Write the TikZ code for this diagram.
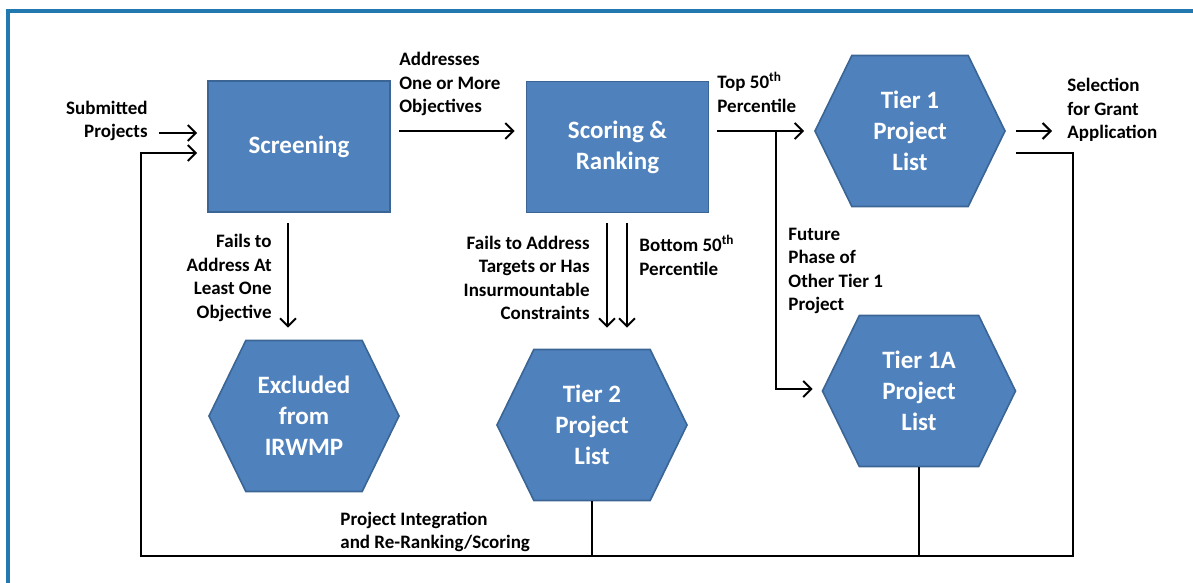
\documentclass[tikz,border=0pt]{standalone}
\usepackage{fontspec}
\setmainfont{Carlito}
\usepackage{tikz}
\usetikzlibrary{arrows.meta}
\usetikzlibrary{shapes.symbols}
\usetikzlibrary{calc}
\definecolor{azulcaixa}{HTML}{4F81BD}
\definecolor{bordacaixa}{HTML}{3A6594}
\definecolor{azulmoldura}{HTML}{2179B0}
\tikzset{
  caixa/.style={draw=bordacaixa, fill=azulcaixa, line width=0.8pt, text=white, align=center, minimum width=91pt, minimum height=65.5pt, inner sep=2pt, font=\fontsize{12.5}{15.5}\selectfont\bfseries},
  hexagono/.style={signal, signal to=east and west, signal from=nowhere, signal pointer angle=128, draw=bordacaixa, fill=azulcaixa, line width=0.8pt, text=white, align=center, minimum width=95pt, minimum height=75.5pt, inner sep=1pt, font=\fontsize{12.5}{15.5}\selectfont\bfseries},
  rotulo/.style={inner sep=0pt, align=#1, font=\fontsize{9.5}{11.75}\selectfont\bfseries},
  rotulo/.default=left,
  seta/.style={-{Straight Barb[length=4pt,width=8pt]}, line width=1pt},
  laco/.style={line width=1pt},
}
\begin{document}
\begin{tikzpicture}[x=0.5pt,y=-0.5pt]
  \useasboundingbox (0,0) rectangle (1193,583);
  \draw[azulmoldura, line width=1.6pt] (8,583) -- (8,11) -- (1193,11);

  % caixas
  \node[caixa] (scr) at (299,146.5) {Screening};
  \node[caixa] (rank) at (617.5,147) {Scoring \&\\Ranking};
  \node[hexagono] (t1) at (910,131) {Tier 1\\Project\\List};
  \node[hexagono, minimum width=96.5pt] (t1a) at (919,391) {Tier 1A\\Project\\List};
  \node[hexagono] (excl) at (304,416) {Excluded\\from\\IRWMP};
  \node[hexagono] (t2) at (592,425) {Tier 2\\Project\\List};

  % rotulos
  \node[rotulo=right, anchor=east] (sub) at (148,121) {Submitted\\Projects};
  \node[rotulo, anchor=west] (objs) at (399,84) {Addresses\\One or More\\Objectives};
  \node[rotulo, anchor=west] (top) at (717,92) {Top 50\textsuperscript{th}\\Percentile};
  \node[rotulo, anchor=west] (sel) at (1067,110) {Selection\\for Grant\\Application};
  \node[rotulo=right, anchor=east] (falha1) at (272,278) {Fails to\\Address At\\Least One\\Objective};
  \node[rotulo=right, anchor=east] (falha2) at (590,278) {Fails to Address\\Targets or Has\\Insurmountable\\Constraints};
  \node[rotulo, anchor=west] (fundo) at (639,255) {Bottom 50\textsuperscript{th}\\Percentile};
  \node[rotulo, anchor=west] (futuro) at (788,271) {Future\\Phase of\\Other Tier 1\\Project};
  \node[rotulo, anchor=west] (integ) at (340,532) {Project Integration\\and Re-Ranking/Scoring};

  \coordinate (cd) at (1073,556);
  \coordinate (ce) at (141,556);
  \coordinate (ramo) at ($(rank.east)+(67,-16)$);
  \coordinate (saida) at (1052,131);

  % setas
  \draw[seta] ($(scr.west)+(-48,-13.5)$) -- ($(scr.west)+(-10,-13.5)$);
  \draw[seta] ($(scr.east)+(8,-15.5)$) -- ($(rank.west)+(-11,-16)$);
  \draw[seta] ($(rank.east)+(8,-16)$) -- ($(t1.west)+(-10,0)$);
  \draw[seta] ($(t1.east)+(10,0)$) -- (saida);
  \draw[seta] (ramo) |- ($(t1a.west)+(-9,-2)$);
  \draw[seta] ($(scr.south)+(-11,10)$) -- ($(excl.north)+(-16,-12)$);
  \draw[seta] ($(rank.south)+(-10.5,10)$) -- ($(t2.north)+(15,-21)$);
  \draw[seta] ($(rank.south)+(9.5,10)$) -- ($(t2.north)+(35,-21)$);
  \draw[seta] ($(t1.east)+(10,22)$) -| (cd) -- (ce) |- ($(scr.west)+(-10,6.5)$);
  \draw[laco] (t2.south) -- (t2.south |- cd);
  \draw[laco] (t1a.south) -- (t1a.south |- cd);
\end{tikzpicture}
\end{document}
